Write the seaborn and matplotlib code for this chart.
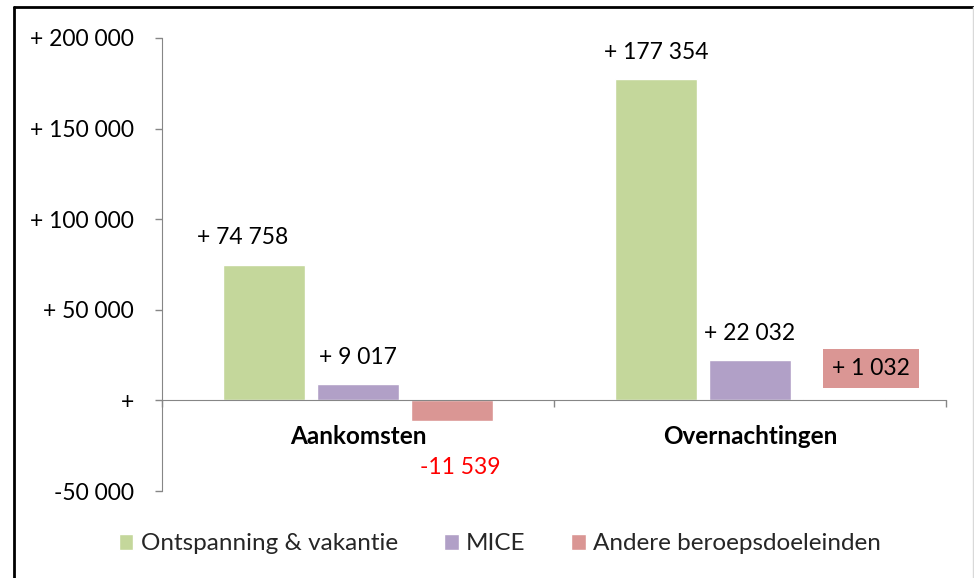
import seaborn as sns
import matplotlib.pyplot as plt
import pandas as pd
from matplotlib.lines import Line2D

# data
categories = ["Aankomsten", "Overnachtingen"]
series = ["Ontspanning & vakantie", "MICE", "Andere beroepsdoeleinden"]
ontspanning = [74758, 177354]
mice = [9017, 22032]
andere = [-11539, 1032]
y_ticks = [-50000, 0, 50000, 100000, 150000, 200000]
y_tick_labels = ["-50 000", "+", "+ 50 000", "+ 100 000", "+ 150 000", "+ 200 000"]

colors = ["#C4D79B", "#B1A0C7", "#DA9694"]


def fmt(v):
    s = f"{abs(v):,}".replace(",", " ")
    return ("+ " if v >= 0 else "-") + s


rows = []
for name, vals in zip(series, [ontspanning, mice, andere]):
    for cat, v in zip(categories, vals):
        rows.append({"categorie": cat, "reeks": name, "waarde": v})
df = pd.DataFrame(rows)

sns.set_style("white")
plt.rcParams["font.family"] = ["Lato", "DejaVu Sans"]
fs_num = 16.5
fs_txt = 17.5

fig = plt.figure(figsize=(9.74, 5.78), dpi=100)
ax = fig.add_axes([162 / 974, 1 - 491 / 578, (946 - 162) / 974, (491 - 38) / 578])

sns.barplot(data=df, x="categorie", y="waarde", hue="reeks", order=categories,
            hue_order=series, palette=colors, width=0.72, gap=0.13,
            saturation=1, errorbar=None, ax=ax, legend=True)

ax.set_xlim(-0.5, 1.5)
ax.set_ylim(-50000, 200000)
ax.set_yticks(y_ticks)
ax.set_yticklabels(y_tick_labels, fontsize=fs_num, color="black")
ax.set_xlabel("")
ax.set_ylabel("")

# spines: gray y axis on the left, category axis at zero
grey = "#868686"
for side in ["top", "right"]:
    ax.spines[side].set_visible(False)
ax.spines["left"].set_color(grey)
ax.spines["bottom"].set_color(grey)
ax.spines["bottom"].set_position(("data", 0))
ax.tick_params(axis="y", direction="out", length=5, color=grey, width=1, pad=15, left=True)

ax.set_xticks([0, 1])
ax.set_xticklabels(categories, fontsize=fs_txt, fontweight="bold", color="black")
ax.tick_params(axis="x", which="major", length=0, pad=18, bottom=True)
ax.set_xticks([-0.5, 0.5, 1.5], minor=True)
ax.tick_params(axis="x", which="minor", direction="out", length=5, color=grey,
               width=1, bottom=True)

# data labels, with small manual nudges (pixels) as in the original
nudges = {
    (0, 0): (-21, 27), (0, 1): (0, 27),
    (1, 0): (0, 27), (1, 1): (0, 27),
    (2, 0): (8, -46), (2, 1): (27, 30),
}
for si, cont in enumerate(ax.containers):
    for ci, bar in enumerate(cont):
        v = [ontspanning, mice, andere][si][ci]
        xc = bar.get_x() + bar.get_width() / 2
        dx, dy = nudges[(si, ci)]
        kw = dict(ha="center", va="center", fontsize=fs_num, color="black",
                  textcoords="offset pixels", xytext=(dx, dy))
        if v < 0:
            kw["color"] = "#FF0000"
        if si == 2 and v >= 0:
            kw["bbox"] = dict(boxstyle="square,pad=0.38", fc=colors[2], ec="none")
        ax.annotate(fmt(v), xy=(xc, v), **kw)

# legend below the plot
handles, labels = ax.get_legend_handles_labels()
ax.get_legend().remove()
fig.legend(handles, labels, loc="center", bbox_to_anchor=(500 / 974, 1 - 544 / 578),
           ncol=3, frameon=False, fontsize=fs_txt, handlelength=0.6, handleheight=0.6,
           handletextpad=0.3, columnspacing=1.9)

# outer chart border
fig.add_artist(Line2D([14 / 974, 14 / 974], [0, 1 - 7 / 578], transform=fig.transFigure,
                      color="black", lw=2))
fig.add_artist(Line2D([14 / 974, 1], [1 - 7 / 578, 1 - 7 / 578], transform=fig.transFigure,
                      color="black", lw=2))
fig.add_artist(Line2D([973 / 974, 973 / 974], [0, 1 - 7 / 578], transform=fig.transFigure,
                      color="#D9D9D9", lw=1))

fig.savefig("out.png", dpi=100, facecolor="white")
